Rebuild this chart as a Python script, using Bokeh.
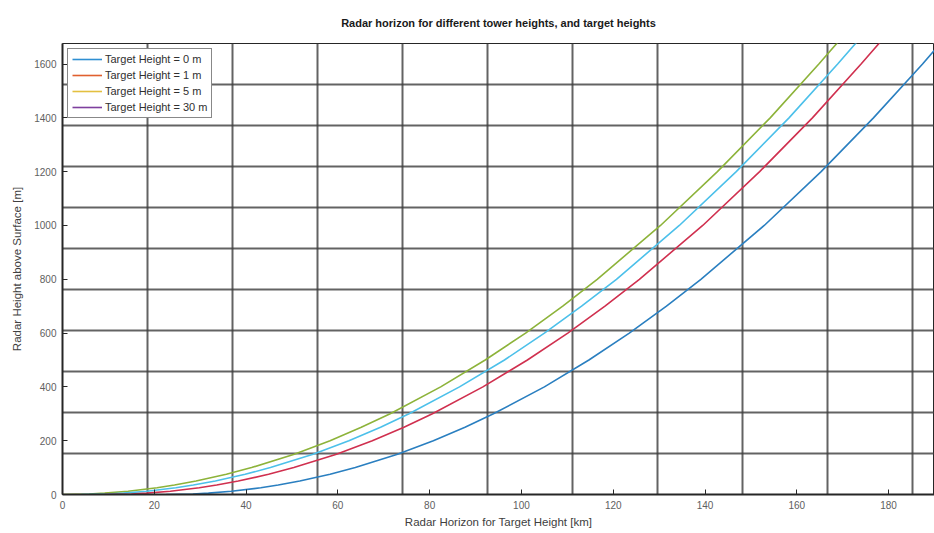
from bokeh.plotting import figure
from bokeh.models import Range1d, FixedTicker, SingleIntervalTicker, Legend, LegendItem
from bokeh.embed import file_html
from bokeh.resources import INLINE

# ---------------- data ----------------
radar_height_m = [0, 2, 5, 12, 25, 35, 50, 75, 100, 150, 200, 250, 300, 400, 500, 600, 700, 800, 1000, 1200, 1400, 1600, 1700]
horizon_tgt0_km = [0, 5.8, 9.2, 14.3, 20.6, 24.4, 29.1, 35.7, 41.2, 50.5, 58.3, 65.1, 71.4, 82.4, 92.1, 100.9, 109.0, 116.5, 130.3, 142.7, 154.2, 164.8, 169.9]
horizon_tgt1_km = [4.1, 9.9, 13.3, 18.4, 24.7, 28.5, 33.3, 39.8, 45.3, 54.6, 62.4, 69.3, 75.5, 86.5, 96.3, 105.0, 113.1, 120.7, 134.4, 146.8, 158.3, 168.9, 174.0]
horizon_tgt5_km = [9.2, 15.0, 18.4, 23.5, 29.8, 33.6, 38.3, 44.9, 50.4, 59.7, 67.5, 74.4, 80.6, 91.6, 101.3, 110.1, 118.2, 125.7, 139.5, 151.9, 163.4, 174.0, 179.1]
horizon_tgt30_km = [22.6, 28.4, 31.8, 36.8, 43.2, 47.0, 51.7, 58.3, 63.8, 73.0, 80.8, 87.7, 93.9, 105.0, 114.7, 123.5, 131.6, 139.1, 152.9, 165.3, 176.7, 187.4, 192.4]

legend_labels = ["Target Height = 0 m", "Target Height = 1 m", "Target Height = 5 m", "Target Height = 30 m"]

# reference lines: every 10 nautical miles (km) and every 500 ft (m)
nmi_lines_km = [18.52, 37.04, 55.56, 74.08, 92.6, 111.12, 129.64, 148.16, 166.68, 185.2]
ft_lines_m = [152.4, 304.8, 457.2, 609.6, 762.0, 914.4, 1066.8, 1219.2, 1371.6, 1524.0, 1676.4]

# ---------------- figure ----------------
FONT = "Liberation Sans"
p = figure(width=934, height=533, output_backend="svg", toolbar_location=None,
           x_range=Range1d(0, 190), y_range=Range1d(0, 1676.4),
           min_border_left=62, min_border_right=0, min_border_top=43, min_border_bottom=39,
           title="Radar horizon for different tower heights, and target heights")
p.background_fill_color = "white"
p.border_fill_color = "white"
p.outline_line_color = "#262626"
p.outline_line_width = 1

p.title.align = "center"
p.title.vertical_align = "top"
p.title.text_font = FONT
p.title.text_font_size = "11px"
p.title.text_font_style = "bold"
p.title.text_color = "#1a1a1a"
p.title.standoff = 26

# grid = thick dark reference lines
p.xgrid.ticker = FixedTicker(ticks=nmi_lines_km)
p.ygrid.ticker = FixedTicker(ticks=ft_lines_m)
for g in (p.xgrid, p.ygrid):
    g.grid_line_color = "#3c3c3c"
    g.grid_line_width = 2
    g.grid_line_alpha = 0.8

# axes
p.xaxis.ticker = SingleIntervalTicker(interval=20, num_minor_ticks=0)
p.yaxis.ticker = SingleIntervalTicker(interval=200, num_minor_ticks=0)
p.xaxis.axis_label = "Radar Horizon for Target Height [km]"
p.yaxis.axis_label = "Radar Height above Surface [m]"
for ax in (p.xaxis, p.yaxis):
    ax.axis_line_color = "#262626"
    ax.axis_line_width = 2
    ax.major_tick_in = 5
    ax.major_tick_out = 0
    ax.major_tick_line_color = "#262626"
    ax.minor_tick_line_color = None
    ax.major_label_text_font = FONT
    ax.major_label_text_font_size = "10px"
    ax.major_label_text_color = "#606060"
    ax.axis_label_text_font = FONT
    ax.axis_label_text_font_size = "11.5px"
    ax.axis_label_text_font_style = "normal"
    ax.axis_label_text_color = "#404040"
p.xaxis.major_label_standoff = 6
p.xaxis.axis_label_standoff = 4
p.yaxis.major_label_standoff = 6
p.yaxis.axis_label_standoff = 8

# curves
curve_colors = ["#8db33a", "#4cc0ea", "#d0304f", "#2a7fc0"]
for xs, c in zip([horizon_tgt0_km, horizon_tgt1_km, horizon_tgt5_km, horizon_tgt30_km], curve_colors):
    p.line(xs, radar_height_m, line_color=c, line_width=1.6)

# legend (colours as shown in the picture's legend); placeholder renderers hold no drawable data
nan = float("nan")
legend_colors = ["#2f8fd2", "#e0602e", "#e3c040", "#7e3f9e"]
items = []
for lab, c in zip(legend_labels, legend_colors):
    r = p.line(x=[nan, nan], y=[nan, nan], line_color=c, line_width=1.6)
    items.append(LegendItem(label=lab, renderers=[r]))
legend = Legend(items=items, location="top_left", margin=5, padding=4, spacing=4,
                glyph_width=30, glyph_height=12, label_height=12, label_standoff=3,
                label_text_font=FONT, label_text_font_size="11px", label_text_color="#303030",
                border_line_color="#111111", border_line_width=1.5,
                background_fill_color="white", background_fill_alpha=1)
p.add_layout(legend)

open("out.html", "w").write(file_html(p, INLINE))
